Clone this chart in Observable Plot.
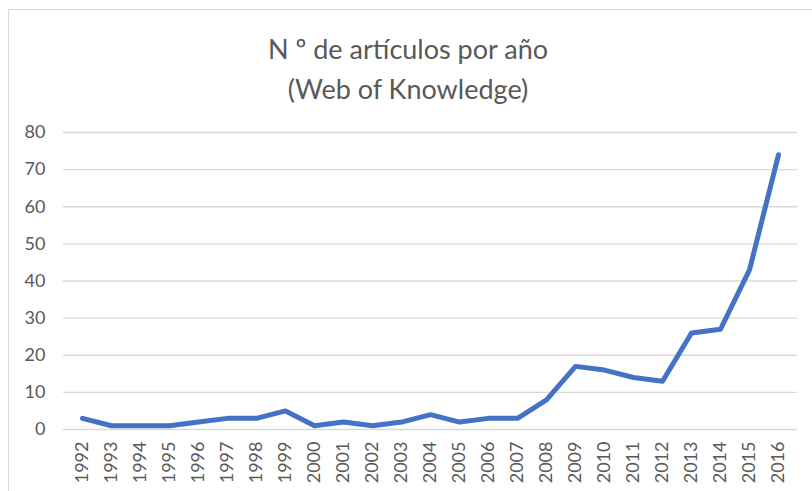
<!DOCTYPE html>
<html>
<head>
<meta charset="utf-8">
<script src="https://cdn.jsdelivr.net/npm/d3@7"></script>
<script src="https://cdn.jsdelivr.net/npm/@observablehq/plot@0.6"></script>
<style>
  html, body { margin: 0; padding: 0; background: #fff; }
  #wrap { position: relative; width: 812px; height: 491px; overflow: hidden; font-family: Lato, "Open Sans", sans-serif; }
  #frame { position: absolute; left: 8px; top: 9px; width: 900px; height: 600px; border-left: 1px solid #d9d9d9; border-top: 1px solid #d9d9d9; }
  #title { position: absolute; left: 0; width: 816px; top: 29px; text-align: center; color: #595959; font-size: 27px; line-height: 40px; }
  #chart { position: absolute; left: 0; top: 0; }
</style>
</head>
<body>
<div id="wrap">
  <div id="frame"></div>
  <div id="title">N º de artículos por año<br>(Web of Knowledge)</div>
  <div id="chart"></div>
</div>
<script>
const years = ["1992","1993","1994","1995","1996","1997","1998","1999","2000","2001","2002","2003","2004","2005","2006","2007","2008","2009","2010","2011","2012","2013","2014","2015","2016"];
const articles = [3,1,1,1,2,3,3,5,1,2,1,2,4,2,3,3,8,17,16,14,13,26,27,43,74];
const yTicks = [0,10,20,30,40,50,60,70,80];

const data = years.map((y, i) => ({year: y, value: articles[i]}));

const plot = Plot.plot({
  width: 812,
  height: 491,
  marginTop: 132,
  marginBottom: 62,
  marginLeft: 63,
  marginRight: 15,
  style: {fontFamily: "Lato, 'Open Sans', sans-serif", color: "#595959", background: "transparent"},
  x: {type: "point", domain: years, padding: 0.5, label: null},
  y: {domain: [0, 80], label: null},
  marks: [
    Plot.ruleY(yTicks, {stroke: "#d9d9d9", strokeWidth: 1.3}),
    Plot.axisY({ticks: yTicks, tickSize: 0, tickPadding: 18, fontSize: 18, label: null, fill: "#595959"}),
    Plot.axisX({tickSize: 0, tickRotate: -90, tickPadding: 12, fontSize: 18, label: null, fill: "#595959"}),
    Plot.line(data, {x: "year", y: "value", stroke: "#4472c4", strokeWidth: 5, strokeLinejoin: "round", strokeLinecap: "round"})
  ]
});
document.getElementById("chart").appendChild(plot);
</script>
</body>
</html>
